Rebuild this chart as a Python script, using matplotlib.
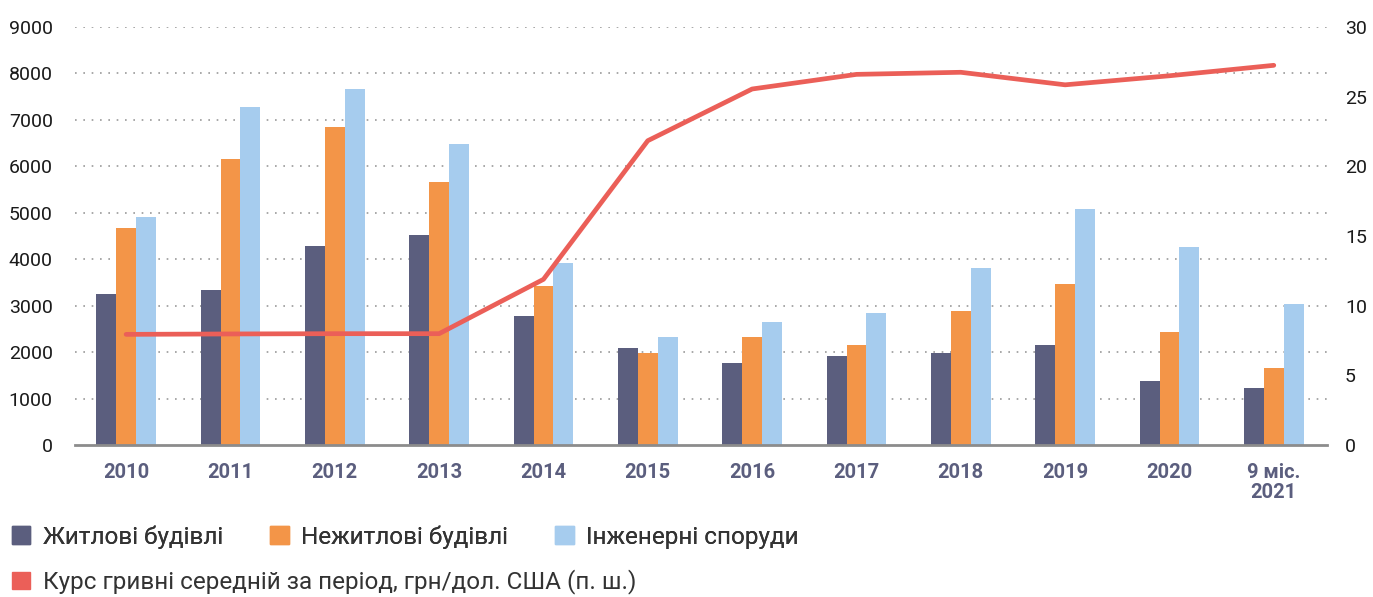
import matplotlib
matplotlib.use("Agg")
import matplotlib.pyplot as plt
from matplotlib.patches import Patch
import numpy as np

plt.rcParams['font.family'] = ['Roboto', 'DejaVu Sans']

categories = ["2010", "2011", "2012", "2013", "2014", "2015", "2016", "2017",
              "2018", "2019", "2020", "9 міс.\n2021"]
residential = [3250, 3340, 4285, 4520, 2780, 2090, 1765, 1915, 1980, 2155, 1380, 1230]
nonresidential = [4670, 6160, 6850, 5660, 3420, 1980, 2325, 2150, 2885, 3465, 2430, 1660]
engineering = [4910, 7280, 7670, 6480, 3920, 2325, 2650, 2840, 3810, 5080, 4265, 3035]
exchange_rate = [7.94, 7.97, 7.99, 7.99, 11.89, 21.84, 25.55, 26.6, 26.75, 25.85, 26.5, 27.25]

series_names = ["Житлові будівлі", "Нежитлові будівлі", "Інженерні споруди"]
line_name = "Курс гривні середній за період, грн/дол. США (п. ш.)"

c_res = "#5b5e7e"
c_non = "#f39548"
c_eng = "#a6ccee"
c_line = "#eb5f58"

fig = plt.figure(figsize=(13.73, 5.97), dpi=100)
ax = fig.add_axes([75 / 1373, 1 - 445 / 597, 1252 / 1373, 418 / 597])
ax2 = ax.twinx()

x = np.arange(len(categories))
w = 0.19
ax.bar(x - w, residential, w, color=c_res, zorder=2)
ax.bar(x, nonresidential, w, color=c_non, zorder=2)
ax.bar(x + w, engineering, w, color=c_eng, zorder=2)

ax.set_ylim(0, 9000)
ax.set_yticks(range(0, 9001, 1000))
ax.set_xlim(-0.49, len(categories) - 0.49)
ax.set_xticks(x)
ax.set_xticklabels(categories, fontsize=14.5, fontweight='bold', color=c_res,
                   linespacing=1.08)
ax.tick_params(axis='y', labelsize=14, length=0, pad=16, labelcolor='#1a1a1a')
ax.tick_params(axis='x', length=0, pad=13)
for yv in range(1000, 9001, 1000):
    ax.axhline(yv, color='#9a9a9a', lw=1.2, ls=(0, (1, 4)), zorder=1)
for s in ['top', 'right', 'left']:
    ax.spines[s].set_visible(False)
ax.spines['bottom'].set_color('#8c8c8c')
ax.spines['bottom'].set_linewidth(2)

ax2.plot(x, exchange_rate, color=c_line, lw=3.4, solid_capstyle='round', zorder=3)
ax2.set_ylim(0, 30)
ax2.set_yticks(range(0, 31, 5))
ax2.tick_params(axis='y', labelsize=14, length=0, pad=13, labelcolor='#1a1a1a')
for s in ['top', 'right', 'left', 'bottom']:
    ax2.spines[s].set_visible(False)

leg_kw = dict(frameon=False, fontsize=17.5, handlelength=0.75, handleheight=0.75,
              handletextpad=0.53, borderaxespad=0, borderpad=0, labelcolor='#333333')
handles1 = [Patch(color=c) for c in (c_res, c_non, c_eng)]
leg1 = fig.legend(handles1, series_names, loc='center left',
                  bbox_to_anchor=(12 / 1373, 1 - 537 / 597), ncol=3,
                  columnspacing=1.93, **leg_kw)
fig.add_artist(leg1)
leg2 = fig.legend([Patch(color=c_line)], [line_name], loc='center left',
                  bbox_to_anchor=(12 / 1373, 1 - 582 / 597), **leg_kw)

fig.savefig("out.png", dpi=100)
